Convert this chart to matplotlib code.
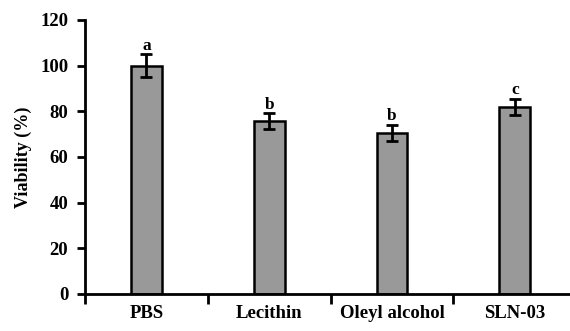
import numpy as np
import matplotlib.pyplot as plt

groups = ["PBS", "Lecithin", "Oleyl alcohol", "SLN-03"]
viability = [100, 75.5, 70.5, 82]
err = [5, 3.5, 3.5, 3.5]
letters = ["a", "b", "b", "c"]

plt.rcParams['font.family'] = ['Liberation Serif', 'DejaVu Serif']
plt.rcParams['font.weight'] = 'bold'

fig = plt.figure(figsize=(5.7, 3.31), dpi=100)
ax = fig.add_axes([0.149, 0.112, 0.862, 0.828])

x = np.arange(len(groups))
ax.bar(x, viability, width=0.25, color="#999999", edgecolor="black", linewidth=1.8, zorder=2)
ax.errorbar(x, viability, yerr=err, fmt="none", ecolor="black", elinewidth=2,
            capsize=4, capthick=2, zorder=3)
for xi, v, e, l in zip(x, viability, err, letters):
    ax.text(xi, v + e + 0.2, l, ha="center", va="bottom", fontsize=12.5, fontweight="bold")

ax.set_xlim(-0.5, 3.5)
ax.set_ylim(0, 120)
ax.set_yticks(range(0, 121, 20))
ax.set_ylabel("Viability (%)", fontsize=13, fontweight="bold", labelpad=6)

# category labels sit between the boundary ticks
ax.set_xticks(np.arange(-0.5, 4, 1))
ax.set_xticklabels([])
ax.set_xticks(x, minor=True)
ax.set_xticklabels(groups, minor=True, fontsize=13.5, fontweight="bold")
ax.tick_params(axis="x", which="minor", length=0, pad=8)
ax.tick_params(axis="x", which="major", length=7, width=2, direction="out")
ax.tick_params(axis="y", length=6, width=2, labelsize=13.5, pad=6)

for s in ["top", "right"]:
    ax.spines[s].set_visible(False)
for s in ["left", "bottom"]:
    ax.spines[s].set_linewidth(2)
ax.spines["left"].set_bounds(0, 120)

fig.savefig("out.png", dpi=100)
